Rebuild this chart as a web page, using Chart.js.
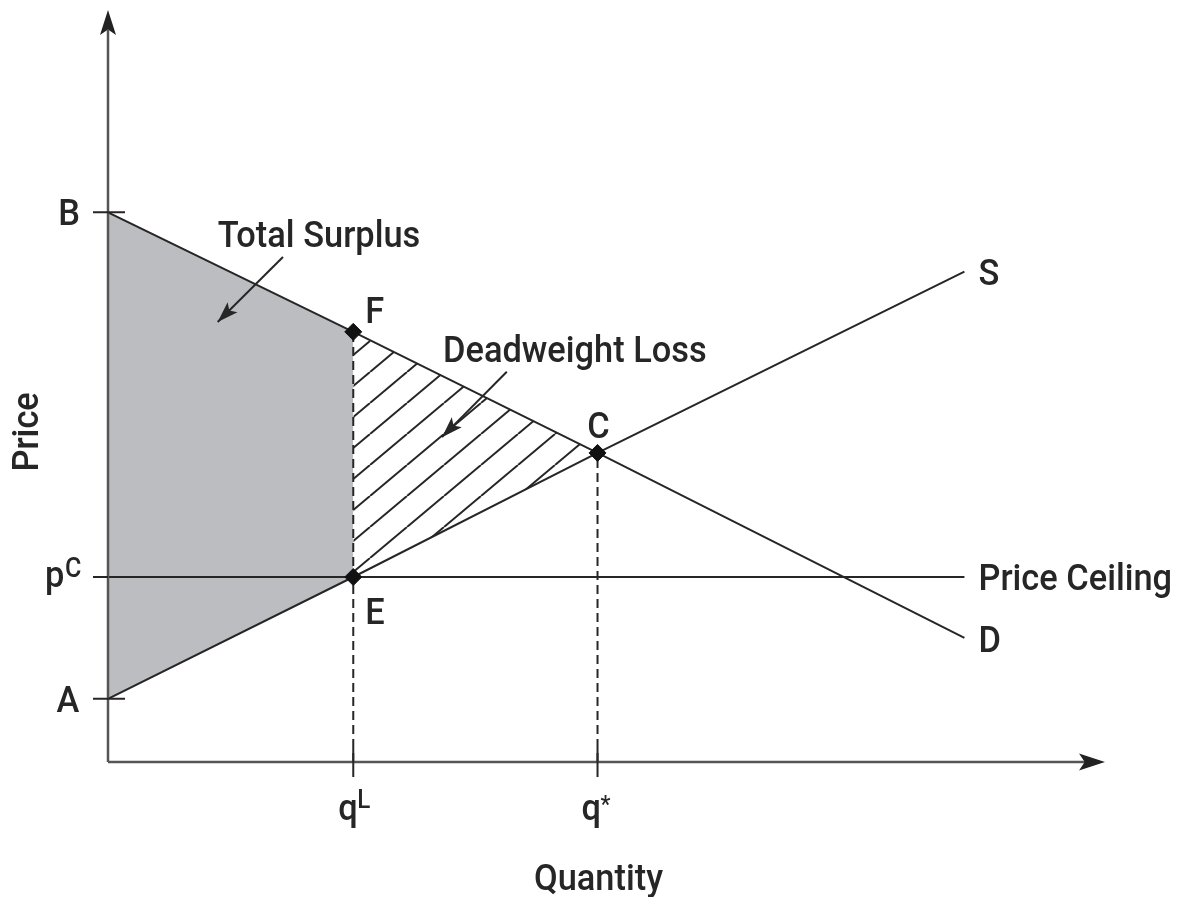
<!DOCTYPE html>
<html>
<head>
<meta charset="utf-8">
<title>Price Ceiling</title>
<script src="https://cdn.jsdelivr.net/npm/chart.js@4.4.0/dist/chart.umd.min.js"></script>
<style>
  html, body { margin: 0; padding: 0; background: #fff; }
</style>
</head>
<body>
<canvas id="diagram" width="1180" height="897"></canvas>
<script>
// quantities: origin, qL, q*, end of the curves
const quantity = [0, 24.6, 49.1, 85.9];
const demand = [73.1, 57.2, 41.1, 16.5];
const supply = [8.4, 24.6, 41.1, 65.2];
const priceCeiling = 24.6;

// axis tick labels as [base, superscript]
const priceTickLabels = [['B', ''], ['p', 'C'], ['A', '']];
const quantityTickLabels = [['q', 'L'], ['q', '*']];
const pointNames = ['F', 'C', 'E'];
const curveNames = ['S', 'D', 'Price Ceiling'];

const INK = '#262626';
const AXIS = '#555555';
const SHADE = '#bcbdc0';
const FONT = '500 {size}px Roboto, "Liberation Sans", sans-serif';

function pts(xs, ys) {
  return xs.map((x, i) => ({ x: x, y: ys[i] }));
}

// diagonal hatching for the deadweight loss triangle
function hatchPattern() {
  const w = 37, h = 31;
  const c = document.createElement('canvas');
  c.width = w; c.height = h;
  const g = c.getContext('2d');
  g.strokeStyle = INK;
  g.lineWidth = 2;
  for (const off of [-w, 0, w]) {
    g.beginPath();
    g.moveTo(off, h);
    g.lineTo(off + w, 0);
    g.stroke();
  }
  return g.createPattern(c, 'repeat');
}

// text is squeezed a little to get the narrow look of the labels
function text(ctx, str, x, y, size, align) {
  ctx.save();
  ctx.font = FONT.replace('{size}', size);
  ctx.textAlign = align || 'left';
  ctx.textBaseline = 'alphabetic';
  ctx.translate(x, y);
  ctx.scale(0.93, 1);
  ctx.fillText(str, 0, 0);
  ctx.restore();
}

function arrowHead(ctx, x, y, angle, len, half) {
  ctx.save();
  ctx.translate(x, y);
  ctx.rotate(angle);
  ctx.beginPath();
  ctx.moveTo(0, 0);
  ctx.lineTo(-len, -half);
  ctx.lineTo(-len * 0.78, 0);
  ctx.lineTo(-len, half);
  ctx.closePath();
  ctx.fill();
  ctx.restore();
}

function pointer(ctx, x1, y1, x2, y2) {
  ctx.beginPath();
  ctx.moveTo(x1, y1);
  ctx.lineTo(x2, y2);
  ctx.stroke();
  arrowHead(ctx, x2, y2, Math.atan2(y2 - y1, x2 - x1), 21, 7);
}

const decor = {
  id: 'decor',
  afterDatasetsDraw(chart) {
    const ctx = chart.ctx;
    const X = v => chart.scales.x.getPixelForValue(v);
    const Y = v => chart.scales.y.getPixelForValue(v);
    const x0 = X(0), y0 = Y(0);
    const xEnd = X(100), yEnd = Y(100);

    ctx.save();
    // axes with arrow heads
    ctx.strokeStyle = AXIS;
    ctx.fillStyle = '#222';
    ctx.lineWidth = 2.5;
    ctx.beginPath();
    ctx.moveTo(x0, y0);
    ctx.lineTo(x0, yEnd + 20);
    ctx.moveTo(x0, y0);
    ctx.lineTo(xEnd - 20, y0);
    ctx.stroke();
    arrowHead(ctx, x0, yEnd, -Math.PI / 2, 25, 8);
    arrowHead(ctx, xEnd, y0, 0, 26, 8.5);

    // tick marks
    ctx.strokeStyle = INK;
    ctx.lineWidth = 2;
    const pVals = [demand[0], priceCeiling, supply[0]];
    ctx.beginPath();
    pVals.forEach((v, i) => {
      ctx.moveTo(x0 - 15, Y(v));
      ctx.lineTo(i === 1 ? x0 : x0 + 17, Y(v));
    });
    [quantity[1], quantity[2]].forEach(v => {
      ctx.moveTo(X(v), y0 - 14);
      ctx.lineTo(X(v), y0 + 15);
    });
    ctx.stroke();

    ctx.fillStyle = INK;
    // price tick labels
    text(ctx, priceTickLabels[0][0], x0 - 39, Y(pVals[0]) + 13, 37, 'center');
    text(ctx, priceTickLabels[1][0], x0 - 63, Y(pVals[1]) + 10, 37);
    text(ctx, priceTickLabels[1][1], x0 - 43, Y(pVals[1]), 27);
    text(ctx, priceTickLabels[2][0], x0 - 40, Y(pVals[2]) + 13, 37, 'center');

    // quantity tick labels
    text(ctx, quantityTickLabels[0][0], X(quantity[1]) - 15, y0 + 58, 37);
    text(ctx, quantityTickLabels[0][1], X(quantity[1]) + 4, y0 + 46, 26);
    text(ctx, quantityTickLabels[1][0], X(quantity[2]) - 16, y0 + 58, 37);
    text(ctx, quantityTickLabels[1][1], X(quantity[2]) + 3, y0 + 50, 24);

    // axis titles
    text(ctx, 'Quantity', X(49.2), y0 + 128, 37, 'center');
    ctx.save();
    ctx.translate(x0 - 70, Y(43.9));
    ctx.rotate(-Math.PI / 2);
    text(ctx, 'Price', 0, 0, 37, 'center');
    ctx.restore();

    // point labels F, C, E
    text(ctx, pointNames[0], X(quantity[1]) + 12, Y(demand[1]) - 9, 37);
    text(ctx, pointNames[1], X(quantity[2]) + 1, Y(demand[2]) - 15, 37, 'center');
    text(ctx, pointNames[2], X(quantity[1]) + 12, Y(priceCeiling) + 47, 37);

    // curve labels
    const xr = X(quantity[3]) + 14;
    text(ctx, curveNames[0], xr, Y(supply[3]) + 13, 37);
    text(ctx, curveNames[1], xr, Y(demand[3]) + 14, 37);
    text(ctx, curveNames[2], xr, Y(priceCeiling) + 13, 37);

    // area annotations
    text(ctx, 'Total Surplus', X(11.0), Y(68.5), 37);
    text(ctx, 'Deadweight Loss', X(33.6), Y(53.2), 37);
    ctx.strokeStyle = INK;
    ctx.fillStyle = INK;
    ctx.lineWidth = 2;
    pointer(ctx, X(17.55), Y(67.15), X(11.0), Y(58.5));
    pointer(ctx, X(40.0), Y(51.9), X(33.5), Y(43.2));
    ctx.restore();
  }
};

const lineStyle = { borderColor: INK, borderWidth: 2, pointRadius: 0, fill: false, tension: 0 };

new Chart(document.getElementById('diagram'), {
  type: 'line',
  data: {
    datasets: [
      // F, C, E markers
      {
        data: [
          { x: quantity[1], y: demand[1] },
          { x: quantity[2], y: demand[2] },
          { x: quantity[1], y: priceCeiling }
        ],
        showLine: false,
        pointStyle: 'rectRot',
        pointRadius: 8.5,
        pointBackgroundColor: '#111',
        pointBorderColor: '#111',
        pointBorderWidth: 1
      },
      Object.assign({ data: pts(quantity, demand) }, lineStyle),
      Object.assign({ data: pts(quantity, supply) }, lineStyle),
      Object.assign({ data: [{ x: 0, y: priceCeiling }, { x: quantity[3], y: priceCeiling }] }, lineStyle),
      // dashed drop lines at qL and q*
      Object.assign({}, lineStyle, { data: [{ x: quantity[1], y: 0 }, { x: quantity[1], y: demand[1] }], borderDash: [9, 5] }),
      Object.assign({}, lineStyle, { data: [{ x: quantity[2], y: 0 }, { x: quantity[2], y: demand[2] }], borderDash: [9, 5] }),
      // total surplus: between demand and supply up to qL
      {
        data: pts(quantity.slice(0, 2), demand.slice(0, 2)),
        borderWidth: 0, pointRadius: 0,
        backgroundColor: SHADE, fill: '+1'
      },
      {
        data: pts(quantity.slice(0, 2), supply.slice(0, 2)),
        borderWidth: 0, pointRadius: 0, fill: false
      },
      // deadweight loss: between demand and supply from qL to q*
      {
        data: pts(quantity.slice(1, 3), demand.slice(1, 3)),
        borderWidth: 0, pointRadius: 0,
        backgroundColor: hatchPattern(), fill: '+1'
      },
      {
        data: pts(quantity.slice(1, 3), supply.slice(1, 3)),
        borderWidth: 0, pointRadius: 0, fill: false
      }
    ]
  },
  options: {
    responsive: false,
    animation: false,
    layout: { padding: { left: 108, right: 75, top: 10, bottom: 135 } },
    plugins: { legend: { display: false }, tooltip: { enabled: false } },
    scales: {
      x: { type: 'linear', min: 0, max: 100, display: false },
      y: { type: 'linear', min: 0, max: 100, display: false }
    }
  },
  plugins: [decor]
});
</script>
</body>
</html>
